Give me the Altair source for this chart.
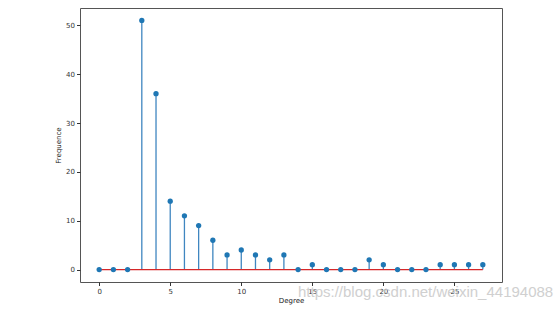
import altair as alt
import pandas as pd

degrees = list(range(28))
freqs = [0, 0, 0, 51, 36, 14, 11, 9, 6, 3, 4, 3, 2, 3, 0, 1, 0, 0, 0, 2, 1, 0, 0, 0, 1, 1, 1, 1]
x_ticks = [0, 5, 10, 15, 20, 25]
y_ticks = [0, 10, 20, 30, 40, 50]
watermark = "https://blog.csdn.net/weixin_44194088"

df = pd.DataFrame({"Degree": degrees, "Frequence": freqs, "zero": [0] * len(degrees)})
base_df = pd.DataFrame({"x0": [min(degrees)], "x1": [max(degrees)], "y": [0]})

xs = alt.Scale(domain=[-1.35, 28.35], nice=False, zero=False)
ys = alt.Scale(domain=[-2.55, 53.55], nice=False, zero=False)

x_axis = alt.Axis(values=x_ticks, grid=False, domain=False, tickSize=3.5, tickColor="#333",
                  labelFontSize=7, labelColor="#333", labelPadding=2,
                  title="Degree", titleFontSize=7, titleFontWeight="normal", titleColor="#222",
                  titlePadding=2, labelFont="DejaVu Sans", titleFont="DejaVu Sans")
y_axis = alt.Axis(values=y_ticks, grid=False, domain=False, tickSize=3.5, tickColor="#333",
                  labelFontSize=7, labelColor="#333", labelPadding=2,
                  title="Frequence", titleFontSize=7, titleFontWeight="normal", titleColor="#222",
                  titlePadding=4, labelFont="DejaVu Sans", titleFont="DejaVu Sans")

stems = alt.Chart(df).mark_rule(color="#3f86c0", strokeWidth=1.3).encode(
    x=alt.X("Degree:Q", scale=xs, axis=x_axis),
    y=alt.Y("zero:Q", scale=ys, axis=y_axis),
    y2="Frequence:Q",
)

baseline = alt.Chart(base_df).mark_rule(color="#d62728", strokeWidth=1.2).encode(
    x=alt.X("x0:Q", scale=xs),
    x2="x1:Q",
    y=alt.Y("y:Q", scale=ys),
)

points = alt.Chart(df).mark_point(filled=True, color="#1f77b4", size=28, opacity=1).encode(
    x=alt.X("Degree:Q", scale=xs),
    y=alt.Y("Frequence:Q", scale=ys),
)

wm = alt.Chart(pd.DataFrame({"t": [watermark]})).mark_text(
    align="left", baseline="middle", fontSize=15, color="#c8c8c8", opacity=0.85,
    font="Liberation Sans"
).encode(text="t:N", x=alt.value(218), y=alt.value(284))

chart = alt.layer(stems, baseline, points, wm).properties(
    width=422, height=274,
    padding={"left": 80, "top": 8, "right": 56, "bottom": 29},
    autosize=alt.AutoSizeParams(type="none"),
    background="white",
).configure_view(stroke="#555", strokeWidth=1)

chart.save("out.html", embed_options={"renderer": "svg", "actions": False})
